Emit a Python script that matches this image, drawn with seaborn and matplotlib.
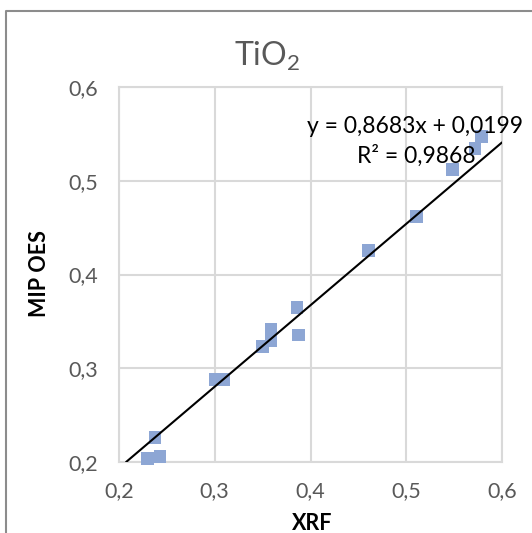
import matplotlib
matplotlib.use("Agg")
import matplotlib.pyplot as plt
import seaborn as sns
import pandas as pd
import numpy as np

# ---- data ----
xrf = [0.2296, 0.2428, 0.2376, 0.301, 0.309, 0.350, 0.3587, 0.3587,
       0.386, 0.3877, 0.4604, 0.511, 0.548, 0.5718, 0.5788]
mip_oes = [0.204, 0.2056, 0.2263, 0.288, 0.288, 0.323, 0.3416, 0.330,
           0.3646, 0.3355, 0.426, 0.4622, 0.5118, 0.5346, 0.5471]
slope = 0.8683
intercept = 0.0199
r2 = 0.9868
x_ticks = [0.2, 0.3, 0.4, 0.5, 0.6]
y_ticks = [0.2, 0.3, 0.4, 0.5, 0.6]
x_tick_labels = ["0,2", "0,3", "0,4", "0,5", "0,6"]
y_tick_labels = ["0,2", "0,3", "0,4", "0,5", "0,6"]
title = "TiO$_{2}$"
x_label = "XRF"
y_label = "MIP OES"
eq_text = "y = 0,8683x + 0,0199"
r2_text = "R² = 0,9868"

df = pd.DataFrame({"XRF": xrf, "MIP OES": mip_oes})

sns.set_theme(style="white")
plt.rcParams["font.family"] = ["Lato", "DejaVu Sans"]
plt.rcParams["mathtext.fontset"] = "custom"
plt.rcParams["mathtext.rm"] = "Lato"
plt.rcParams["mathtext.it"] = "Lato"
plt.rcParams["mathtext.default"] = "regular"

W, H = 532, 533
fig = plt.figure(figsize=(W / 100, H / 100), dpi=100)
fig.patch.set_facecolor("white")
ax = fig.add_axes([119 / W, 1 - 462 / H, (502 - 119) / W, (462 - 87) / H])

grid_c = "#D9D9D9"
ax.set_xlim(0.2, 0.6)
ax.set_ylim(0.2, 0.6)
ax.set_xticks(x_ticks)
ax.set_yticks(y_ticks)
ax.set_xticklabels(x_tick_labels)
ax.set_yticklabels(y_tick_labels)
ax.grid(True, color=grid_c, linewidth=1.5)
ax.set_axisbelow(True)
for s in ax.spines.values():
    s.set_color(grid_c)
    s.set_linewidth(1.5)
ax.tick_params(length=0, labelsize=15.5, labelcolor="#595959")
ax.tick_params(axis="x", pad=14)
ax.tick_params(axis="y", pad=15)

sns.scatterplot(data=df, x="XRF", y="MIP OES", marker="s", s=85,
                color="#8DA6D4", edgecolor="none", linewidth=0, ax=ax,
                zorder=3, clip_on=False)
ax.axline((0, intercept), slope=slope, color="black", linewidth=1.5, zorder=4)
ax.set_xlabel("")
ax.set_ylabel("")

fig.text(415 / W, 1 - 133 / H, eq_text, ha="center", va="baseline",
         fontsize=16.5, color="black")
fig.text(416 / W, 1 - 163 / H, r2_text, ha="center", va="baseline",
         fontsize=16.5, color="black")

fig.text(267 / W, 1 - 66 / H, title, ha="center", va="baseline",
         fontsize=23, color="#595959")
fig.text(312 / W, 1 - 530 / H, x_label, ha="center", va="baseline",
         fontsize=15.5, fontweight="bold", color="black")
fig.text(50 / W, 1 - 274 / H, y_label, ha="right", va="center",
         rotation=90, fontsize=15.5, fontweight="bold", color="black")

# chart border
fig.add_artist(plt.Line2D([5.5 / W, 5.5 / W, 1.0], [0, 1 - 11 / H, 1 - 11 / H],
                          transform=fig.transFigure, color="#8C8C8C",
                          linewidth=1.5))

fig.savefig("out.png", dpi=100)
